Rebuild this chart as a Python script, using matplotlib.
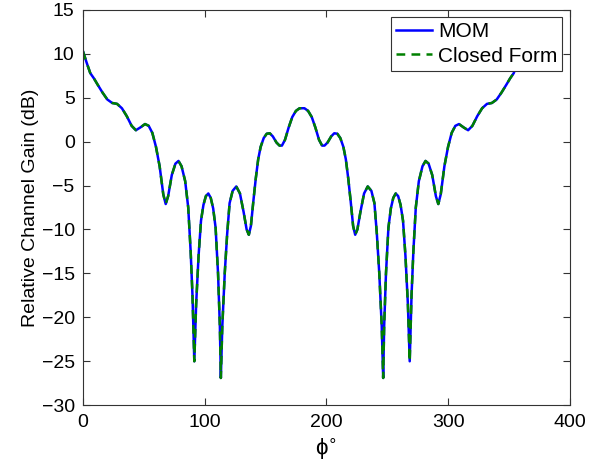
import matplotlib
matplotlib.use("Agg")
import matplotlib.pyplot as plt

plt.rcParams['font.family'] = ['Liberation Sans', 'DejaVu Sans']

# angle (degrees) and gain (dB)
phi = [0, 3, 6, 9, 12, 16, 20, 24, 28, 32, 36, 40, 43.5, 47, 51, 54, 57, 60, 63, 66,
       68, 70, 73, 76, 78.5, 81, 84, 86.5, 88.5, 90, 91.5, 93, 95, 97, 99, 101, 103, 105,
       107, 109, 111, 112.5, 113.3, 114.5, 116.5, 118.5, 120.5, 123, 126, 129, 132, 134.5,
       136.3, 138, 140, 142, 144, 146, 148.5, 151, 153.5, 156, 159, 161.5, 163.5, 166, 169,
       172, 175, 178, 180,
       182, 185, 188, 191, 194, 196.5, 198.5, 201, 204, 206.5, 209, 211.5, 214, 216, 218,
       220, 222, 223.7, 225.5, 228, 231, 234, 237, 239.5, 241.5, 243.5, 245.5, 246.7, 247.5,
       249, 251, 253, 255, 257, 259, 261, 263, 265, 267, 268.5, 270, 271.5, 273.5, 276, 279,
       281.5, 284, 287, 290, 292, 294, 297, 300, 303, 306, 309, 313, 316.5, 320, 324, 328,
       332, 336, 340, 344, 348, 351, 354, 357, 360]

mom = [10.3, 9.0, 7.8, 7.2, 6.5, 5.6, 4.8, 4.4, 4.3, 3.8, 2.9, 1.8, 1.3, 1.6, 2.0, 1.8, 1.0,
       -0.6, -2.8, -6.0, -7.1, -6.2, -3.8, -2.5, -2.2, -2.8, -4.5, -7.5, -12.5, -17.5, -25.0,
       -18.5, -13.0, -9.0, -7.2, -6.2, -5.9, -6.4, -7.6, -9.8, -15.0, -21.0, -26.9, -21.0,
       -15.0, -10.5, -7.0, -5.6, -5.1, -5.9, -8.0, -10.0, -10.6, -9.6, -6.8, -4.2, -2.0, -0.6,
       0.4, 0.9, 0.95, 0.6, -0.1, -0.45, -0.45, 0.2, 1.6, 2.8, 3.5, 3.8, 3.8,
       3.8, 3.5, 2.8, 1.6, 0.2, -0.45, -0.45, -0.1, 0.6, 0.95, 0.9, 0.4, -0.6, -2.0, -4.2,
       -6.8, -9.6, -10.6, -10.0, -8.0, -5.9, -5.1, -5.6, -7.0, -10.5, -15.0, -21.0, -26.9,
       -21.0, -15.0, -9.8, -7.6, -6.4, -5.9, -6.2, -7.2, -9.0, -13.0, -18.5, -25.0, -17.5,
       -12.5, -7.5, -4.5, -2.8, -2.2, -2.5, -3.8, -6.2, -7.1, -6.0, -2.8, -0.6, 1.0, 1.8, 2.0,
       1.6, 1.3, 1.8, 2.9, 3.8, 4.3, 4.4, 4.8, 5.6, 6.5, 7.2, 7.8, 9.0, 10.3]

# the closed form result lies on top of the MOM curve at this resolution
closed_form = list(mom)

fig = plt.figure(figsize=(6.1, 4.69), dpi=100)
ax = fig.add_axes([0.136, 0.136, 0.798, 0.843])

ax.plot(phi, mom, color='#0000ff', lw=1.8, label='MOM')
ax.plot(phi, closed_form, color='#008000', lw=1.8, ls=(0, (3.5, 2.5)), label='Closed Form')

ax.set_xlim(0, 400)
ax.set_ylim(-30, 15)
ax.set_xticks([0, 100, 200, 300, 400])
ax.set_yticks(range(-30, 16, 5))
ax.tick_params(direction='in', top=True, right=True, labelsize=14, length=5,
               color='#333333', pad=6)
for s in ax.spines.values():
    s.set_color('#333333')

ax.set_xlabel('\u03d5$^{\\circ}$', fontsize=16, labelpad=4)
ax.set_ylabel('Relative Channel Gain (dB)', fontsize=14, labelpad=2)

leg = ax.legend(loc='upper right', fontsize=15, fancybox=False, framealpha=1,
                edgecolor='#333333', borderpad=0.25, labelspacing=0.25,
                handlelength=1.7, handletextpad=0.3, borderaxespad=0.35)
leg.get_frame().set_linewidth(0.8)

fig.savefig('out.png', dpi=100)
